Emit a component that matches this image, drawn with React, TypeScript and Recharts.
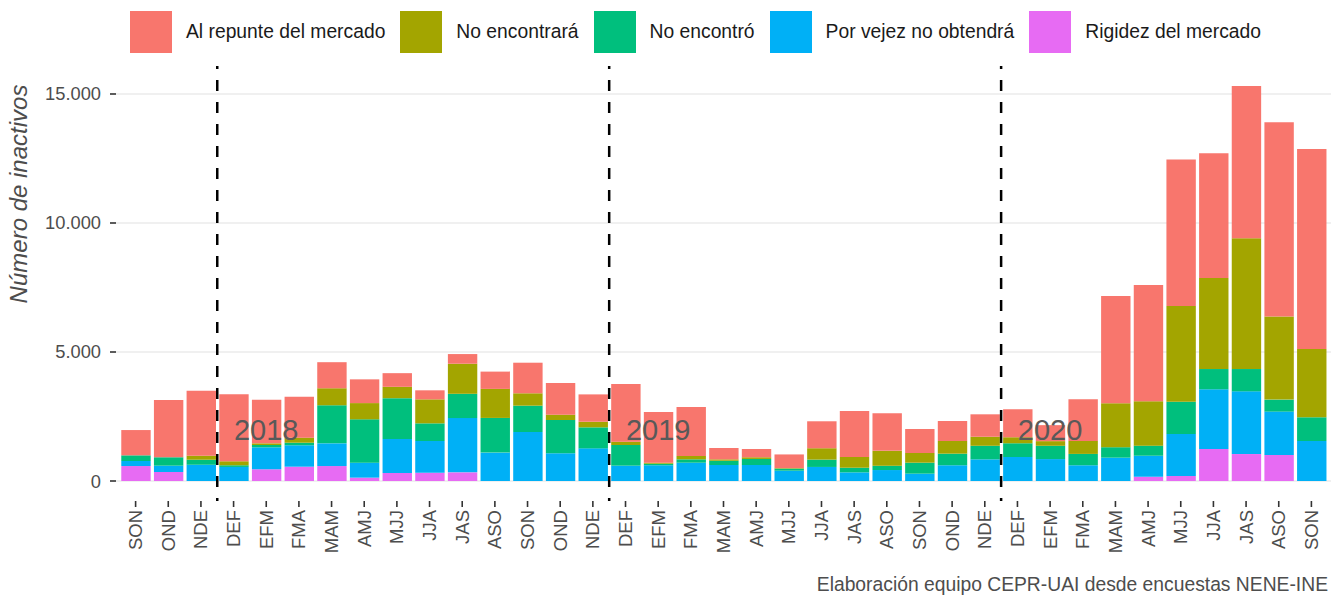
import { BarChart, Bar, XAxis, YAxis, CartesianGrid, ReferenceLine, ReferenceDot } from "recharts"

// trimestres móviles, de SON 2017 a SON 2020
const trimestres = [
  "SON", "OND", "NDE",
  "DEF", "EFM", "FMA", "MAM", "AMJ", "MJJ", "JJA", "JAS", "ASO", "SON", "OND", "NDE",
  "DEF", "EFM", "FMA", "MAM", "AMJ", "MJJ", "JJA", "JAS", "ASO", "SON", "OND", "NDE",
  "DEF", "EFM", "FMA", "MAM", "AMJ", "MJJ", "JJA", "JAS", "ASO", "SON",
]
const anios = [
  2017, 2017, 2017,
  2018, 2018, 2018, 2018, 2018, 2018, 2018, 2018, 2018, 2018, 2018, 2018,
  2019, 2019, 2019, 2019, 2019, 2019, 2019, 2019, 2019, 2019, 2019, 2019,
  2020, 2020, 2020, 2020, 2020, 2020, 2020, 2020, 2020, 2020,
]

const rigidez = [
  580, 350, 0,
  0, 455, 555, 580, 130, 310, 320, 335, 0, 0, 0, 0,
  0, 0, 0, 0, 0, 0, 0, 0, 0, 0, 0, 0,
  0, 0, 0, 0, 165, 195, 1240, 1045, 1010, 0,
]
const porVejez = [
  195, 245, 630,
  545, 850, 830, 880, 580, 1320, 1230, 2105, 1100, 1900, 1075, 1265,
  595, 610, 710, 620, 620, 400, 545, 335, 425, 285, 610, 840,
  930, 850, 610, 905, 815, 1630, 2315, 2430, 1680, 1550,
]
const noEncontro = [
  220, 325, 195,
  65, 90, 100, 1475, 1680, 1580, 685, 940, 1345, 1020, 1290, 815,
  800, 60, 130, 165, 235, 80, 285, 180, 165, 425, 450, 525,
  530, 515, 440, 405, 390, 1250, 785, 865, 465, 920,
]
const noEncontrara = [
  0, 0, 155,
  155, 65, 195, 660, 630, 440, 930, 1165, 1125, 480, 205, 217,
  130, 40, 130, 55, 65, 20, 440, 415, 580, 375, 490, 350,
  235, 180, 505, 1705, 1720, 3710, 3525, 5065, 3225, 2650,
]
const alRepunte = [
  980, 2220, 2520,
  2600, 1690, 1590, 1010, 920, 530, 350, 375, 670, 1185, 1230, 1060,
  2235, 1965, 1900, 440, 320, 530, 1045, 1785, 1460, 930, 775, 870,
  1085, 620, 1615, 4160, 4510, 5675, 4835, 5905, 7525, 7750,
]

// orden de apilado: de abajo hacia arriba
const series = [
  { key: "rigidez", name: "Rigidez del mercado", color: "#E76BF3", values: rigidez },
  { key: "porVejez", name: "Por vejez no obtendrá", color: "#00B0F6", values: porVejez },
  { key: "noEncontro", name: "No encontró", color: "#00BF7D", values: noEncontro },
  { key: "noEncontrara", name: "No encontrará", color: "#A3A500", values: noEncontrara },
  { key: "alRepunte", name: "Al repunte del mercado", color: "#F8766D", values: alRepunte },
]

const yTicks = [0, 5000, 10000, 15000]
const cortes = ["2018", "2019", "2020"]

const data = trimestres.map((t, i) => {
  const row: any = { periodo: `${t}-${anios[i]}` }
  series.forEach((s) => { row[s.key] = s.values[i] })
  return row
})

const fmtMiles = (v: number) => String(v).replace(/\B(?=(\d{3})+(?!\d))/g, ".")

const FONT = '"Liberation Sans", Arial, sans-serif'

const XTick = ({ x, y, payload }: any) => (
  <text
    x={x}
    y={y}
    transform={`rotate(-90 ${x} ${y})`}
    textAnchor="end"
    dominantBaseline="central"
    fontSize={18.5}
    fill="#4d4d4d"
    fontFamily={FONT}
  >
    {String(payload.value).split("-")[0]}
  </text>
)

export default function App() {
  const pad = 3.27
  return (
    <div style={{ position: "absolute", left: 0, top: 0, width: 1332, height: 596, background: "#fff", fontFamily: FONT }}>
      {/* leyenda */}
      <div style={{ position: "absolute", top: 11, left: 130, display: "flex", alignItems: "center" }}>
        {[...series].reverse().map((s) => (
          <div key={s.key} style={{ display: "flex", alignItems: "center", marginRight: 15 }}>
            <div style={{ width: 42, height: 42, background: s.color }} />
            <span style={{ marginLeft: 14, fontSize: 19.3, color: "#1a1a1a", whiteSpace: "nowrap" }}>{s.name}</span>
          </div>
        ))}
      </div>

      {/* título eje y */}
      <div
        style={{
          position: "absolute",
          left: 19,
          top: 194,
          transform: "translate(-50%, -50%) rotate(-90deg)",
          fontSize: 24,
          fontStyle: "italic",
          color: "#4d4d4d",
          whiteSpace: "nowrap",
          lineHeight: 1,
        }}
      >
        Número de inactivos
      </div>

      <BarChart width={1332} height={596} data={data} margin={{ top: 66, right: 1, bottom: 0, left: 0 }}>
        <CartesianGrid vertical={false} horizontalValues={yTicks} stroke="#ebebeb" strokeWidth={1.5} />
        <XAxis
          dataKey="periodo"
          interval={0}
          height={95}
          padding={{ left: pad, right: pad }}
          axisLine={false}
          tickSize={6}
          tickMargin={3}
          tickLine={{ stroke: "#333333", strokeWidth: 1.6 }}
          tick={<XTick />}
        />
        <YAxis
          width={116}
          domain={[-775, 16085]}
          allowDataOverflow
          ticks={yTicks}
          interval={0}
          axisLine={false}
          tickSize={6}
          tickMargin={9}
          tickLine={{ stroke: "#333333", strokeWidth: 1.6 }}
          tickFormatter={fmtMiles}
          tick={{ fontSize: 18.3, fill: "#4d4d4d", fontFamily: FONT }}
        />
        {series.map((s) => (
          <Bar key={s.key} dataKey={s.key} name={s.name} stackId="a" fill={s.color} barSize={29.4} isAnimationActive={false} />
        ))}
        {cortes.map((a) => (
          <ReferenceLine
            key={`l${a}`}
            x={`DEF-${a}`}
            position="start"
            stroke="#000"
            strokeWidth={2.5}
            strokeDasharray="11 11"
            strokeDashoffset={8}
          />
        ))}
        {cortes.map((a) => (
          <ReferenceDot
            key={`t${a}`}
            x={`EFM-${a}`}
            y={2000}
            r={1}
            fill="none"
            stroke="none"
            label={{ value: a, position: "center", fontSize: 29, fill: "#595959", fontFamily: FONT }}
          />
        ))}
      </BarChart>

      <div style={{ position: "absolute", right: 4, top: 575, fontSize: 19.3, lineHeight: "20px", color: "#4d4d4d", whiteSpace: "nowrap" }}>
        Elaboración equipo CEPR-UAI desde encuestas NENE-INE
      </div>
    </div>
  )
}
